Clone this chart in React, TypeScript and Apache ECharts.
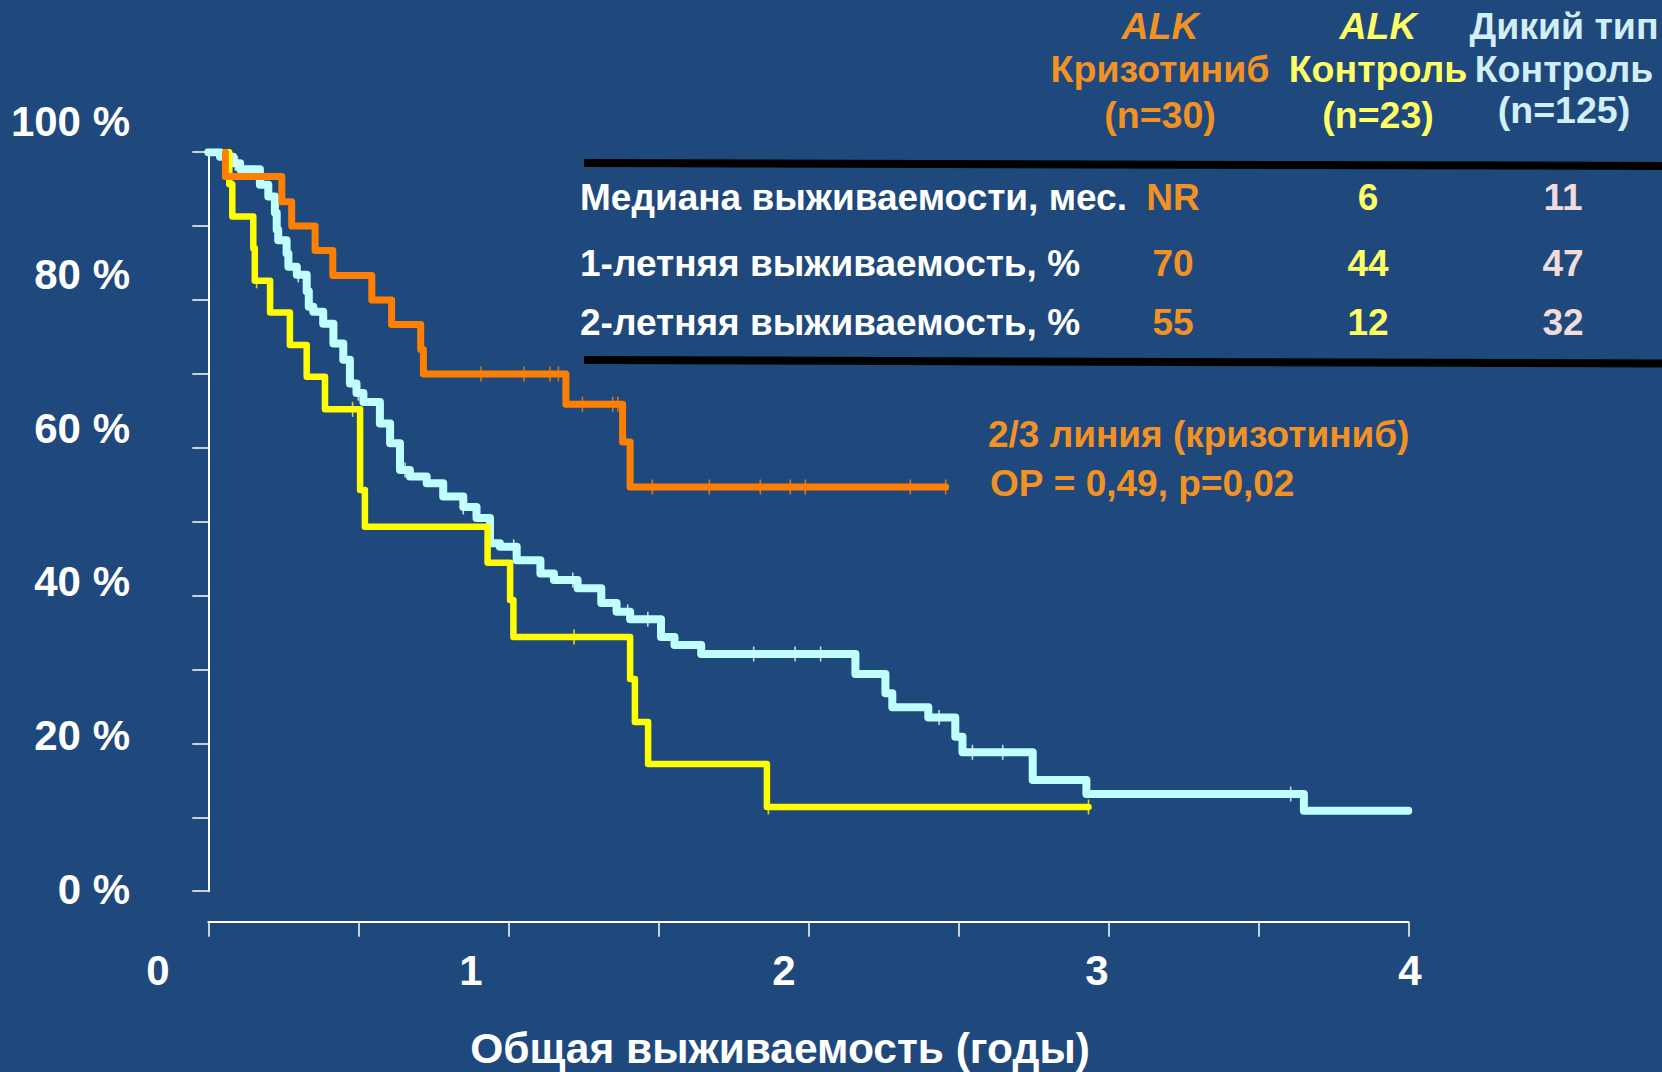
import React, { useEffect, useRef } from "react";
import * as echarts from "echarts";

// ---- Kaplan–Meier curves (time in years, survival in %) ----
const cyanTimes = [0, 0.039, 0.083, 0.106, 0.172, 0.2, 0.222, 0.228, 0.233, 0.261, 0.267, 0.295, 0.328, 0.335, 0.35, 0.383, 0.417, 0.45, 0.472, 0.494, 0.517, 0.572, 0.606, 0.639, 0.672, 0.728, 0.783, 0.85, 0.894, 0.939, 0.972, 1.028, 1.107, 1.152, 1.231, 1.31, 1.361, 1.406, 1.509, 1.554, 1.643, 2.157, 2.257, 2.28, 2.4, 2.49, 2.514, 2.748, 2.927, 3.652, 4.0];
const cyanSurv = [100, 99.4, 98.5, 97.7, 95.6, 94.0, 91.8, 89.5, 88.1, 86.3, 84.5, 83.4, 81.2, 79.1, 78.4, 76.8, 74.1, 71.9, 68.7, 67.4, 66.2, 63.3, 60.6, 57.0, 56.1, 55.2, 53.4, 52.0, 50.5, 47.1, 46.6, 44.8, 43.0, 42.1, 41.0, 39.0, 37.8, 36.8, 34.4, 33.3, 32.1, 29.4, 26.8, 24.9, 23.5, 20.9, 18.8, 15.05, 13.15, 10.9, 10.9];
const cyanCensor = [0.09, 0.097, 0.3, 0.5, 0.656, 0.85, 1.018, 1.215, 1.398, 1.465, 1.818, 1.956, 2.041, 2.436, 2.547, 2.648, 3.608];

const yellowTimes = [0.07, 0.07, 0.08, 0.15, 0.155, 0.206, 0.272, 0.328, 0.389, 0.506, 0.522, 0.931, 1.006, 1.017, 1.406, 1.422, 1.466, 1.862, 2.934];
const yellowSurv = [100, 95.65, 91.3, 87.0, 82.6, 78.3, 73.9, 69.6, 65.2, 54.3, 49.3, 44.45, 39.4, 34.4, 28.7, 22.9, 17.2, 11.4, 11.4];
const yellowCensor = [0.161, 0.481, 1.219, 1.867, 2.934];

const orangeTimes = [0.057, 0.057, 0.245, 0.278, 0.356, 0.415, 0.545, 0.611, 0.708, 0.717, 1.192, 1.381, 1.406, 2.458];
const orangeSurv = [100, 96.7, 93.3, 90.0, 86.7, 83.3, 80.0, 76.7, 73.3, 70.0, 65.9, 60.8, 54.7, 54.7];
const orangeCensor = [0.909, 1.052, 1.139, 1.167, 1.247, 1.348, 1.365, 1.48, 1.67, 1.84, 1.94, 1.99, 2.34, 2.458];

// ---- axes ----
const xTickLabels = [0, 1, 2, 3, 4];
const yTickLabels = [0, 20, 40, 60, 80, 100];

// ---- table ----
const headerTop = ["ALK", "ALK", "Дикий тип"];
const headerMid = ["Кризотиниб", "Контроль", "Контроль"];
const headerN = ["(n=30)", "(n=23)", "(n=125)"];
const rowLabels = ["Медиана выживаемости, мес.", "1-летняя выживаемость, %", "2-летняя выживаемость, %"];
const rowCriz = ["NR", "70", "55"];
const rowAlkCtrl = ["6", "44", "12"];
const rowWild = ["11", "47", "32"];

const annotation = ["2/3 линия (кризотиниб)", "ОР = 0,49, р=0,02"];
const xTitle = "Общая выживаемость (годы)";

const FONT = "'Liberation Sans', Arial, sans-serif";
const BG = "#1F497D";
const C_ORANGE = "#FF8000";
const C_YELLOW = "#FFFF00";
const C_CYAN = "#C0FFFF";
const T_ORANGE = "#F39224";
const T_YELLOW = "#FFFF66";
const T_CYAN = "#D2EEF6";
const T_PINK = "#F2DCDB";

function toPairs(t: number[], s: number[]) {
  return t.map((v, i) => [v, s[i]]);
}
function survAt(t: number[], s: number[], x: number) {
  let v = s[0];
  for (let i = 0; i < t.length; i++) if (t[i] <= x) v = s[i];
  return v;
}

export default function App() {
  const ref = useRef<HTMLDivElement>(null);
  useEffect(() => {
    document.body.style.margin = "0";
    document.body.style.background = BG;
    const chart = echarts.init(ref.current!, null, { renderer: "svg" });

    const colX = [1160, 1378, 1564];
    const rowY = [197, 263, 322];
    const graphics: any[] = [];
    const txt = (text: string, x: number, y: number, color: string, size: number, align = "center", italic = false) => ({
      type: "text",
      x,
      y,
      style: {
        text,
        fill: color,
        font: `${italic ? "italic " : ""}bold ${size}px ${FONT}`,
        textAlign: align,
        textVerticalAlign: "middle",
      },
    });
    const hColors = [T_ORANGE, T_YELLOW, T_CYAN];
    headerTop.forEach((h, i) => graphics.push(txt(h, colX[i], 26, hColors[i], 37.5, "center", i < 2)));
    headerMid.forEach((h, i) => graphics.push(txt(h, colX[i], 69, hColors[i], 37.5)));
    headerN.forEach((h, i) => graphics.push(txt(h, colX[i], i === 2 ? 110 : 115, hColors[i], 37.5)));
    rowLabels.forEach((r, i) => graphics.push(txt(r, 580, rowY[i], "#FFFFFF", 37, "left")));
    rowCriz.forEach((r, i) => graphics.push(txt(r, 1173, rowY[i], T_ORANGE, 37)));
    rowAlkCtrl.forEach((r, i) => graphics.push(txt(r, 1368, rowY[i], T_YELLOW, 37)));
    rowWild.forEach((r, i) => graphics.push(txt(r, 1563, rowY[i], T_PINK, 37)));
    graphics.push({ type: "line", shape: { x1: 584, y1: 163, x2: 1662, y2: 166 }, style: { stroke: "#000000", lineWidth: 8 } });
    graphics.push({ type: "line", shape: { x1: 584, y1: 360, x2: 1662, y2: 363.5 }, style: { stroke: "#000000", lineWidth: 8 } });
    graphics.push(txt(annotation[0], 988, 434, T_ORANGE, 37, "left"));
    graphics.push(txt(annotation[1], 990, 483, T_ORANGE, 37, "left"));
    graphics.push(txt(xTitle, 780, 1048, "#FFFFFF", 42.5));

    const lineSeries = (name: string, t: number[], s: number[], color: string, w: number, z: number) => ({
      name,
      type: "line",
      step: "end",
      data: toPairs(t, s),
      showSymbol: false,
      symbol: "none",
      lineStyle: { color, width: w, cap: "round", join: "round" },
      z,
      silent: true,
    });
    const censorSeries = (name: string, t: number[], s: number[], c: number[], color: string, z: number) => ({
      name,
      type: "scatter",
      data: c.map((x) => [x, survAt(t, s, x)]),
      symbol: "rect",
      symbolSize: [1.6, 15],
      itemStyle: { color },
      z,
      silent: true,
    });

    chart.setOption({
      animation: false,
      backgroundColor: BG,
      textStyle: { fontFamily: FONT },
      graphic: graphics,
      grid: [
        { left: 208.3, top: 152.2, width: 1200, height: 739 },
        { left: 158, top: 121.4, width: 1252, height: 767.6 },
      ],
      xAxis: [
        {
          type: "value",
          gridIndex: 0,
          min: 0,
          max: 4,
          interval: 0.5,
          position: "bottom",
          offset: 30.5,
          axisLine: { show: true, onZero: false, lineStyle: { color: "#FFFFFF", width: 2 } },
          axisTick: { show: true, length: 15, lineStyle: { color: "#FFFFFF", width: 1.5 } },
          axisLabel: { show: false },
          splitLine: { show: false },
        },
        {
          type: "value",
          gridIndex: 1,
          min: 0,
          max: 4,
          interval: 1,
          offset: 60,
          axisLine: { show: false, onZero: false },
          axisTick: { show: false },
          splitLine: { show: false },
          axisLabel: {
            show: true,
            margin: 0,
            color: "#FFFFFF",
            fontSize: 42,
            fontWeight: "bold",
            fontFamily: FONT,
            formatter: (v: number) => (xTickLabels.includes(v) ? String(v) : ""),
          },
        },
      ],
      yAxis: [
        {
          type: "value",
          gridIndex: 0,
          min: 0,
          max: 100,
          interval: 10,
          axisLine: { show: true, onZero: false, lineStyle: { color: "#FFFFFF", width: 2 } },
          axisTick: { show: true, length: 16, lineStyle: { color: "#FFFFFF", width: 1.5 } },
          axisLabel: { show: false },
          splitLine: { show: false },
        },
        {
          type: "value",
          gridIndex: 1,
          min: 0,
          max: 100,
          interval: 20,
          axisLine: { show: false, onZero: false },
          axisTick: { show: false },
          splitLine: { show: false },
          axisLabel: {
            show: true,
            margin: 28,
            color: "#FFFFFF",
            fontSize: 42,
            fontWeight: "bold",
            fontFamily: FONT,
            formatter: (v: number) => (yTickLabels.includes(v) ? `${v} %` : ""),
          },
        },
      ],
      series: [
        lineSeries("cyan", cyanTimes, cyanSurv, C_CYAN, 8, 2),
        censorSeries("cyanC", cyanTimes, cyanSurv, cyanCensor, "#E6FFFF", 3),
        lineSeries("yellow", yellowTimes, yellowSurv, C_YELLOW, 6.5, 4),
        censorSeries("yellowC", yellowTimes, yellowSurv, yellowCensor, C_YELLOW, 5),
        lineSeries("orange", orangeTimes, orangeSurv, C_ORANGE, 7, 6),
        censorSeries("orangeC", orangeTimes, orangeSurv, orangeCensor, C_ORANGE, 7),
      ],
    });
    return () => chart.dispose();
  }, []);
  return <div ref={ref} style={{ width: 1662, height: 1072 }} />;
}
